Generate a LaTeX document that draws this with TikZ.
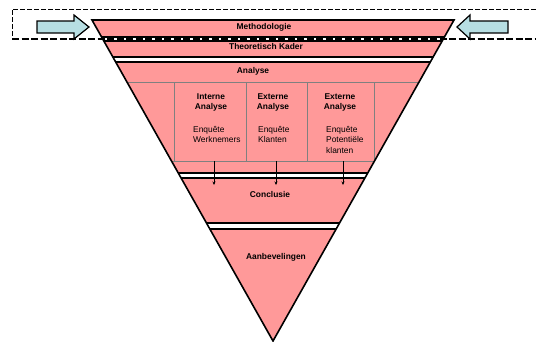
\documentclass[tikz,border=0pt]{standalone}
\usepackage{fontspec}
\setmainfont{Liberation Sans}
\usetikzlibrary{arrows.meta}
\definecolor{pinkfill}{RGB}{255,153,153}
\definecolor{bluefill}{RGB}{183,222,226}
\definecolor{gridgray}{RGB}{128,128,128}
\begin{document}
\begin{tikzpicture}[x=1pt,y=-1pt,
  band/.style={font=\fontsize{8.4}{9}\selectfont\bfseries, inner sep=0pt},
  celltitle/.style={font=\fontsize{8.4}{10}\selectfont\bfseries, align=center, inner sep=0pt},
  celltext/.style={font=\fontsize{8.4}{10.5}\selectfont, align=left, inner sep=0pt, anchor=north west},
  sepline/.style={line width=1.2pt},
  gridline/.style={draw=gridgray, line width=0.6pt},
  flow/.style={-{Stealth[length=3.5pt,width=3pt]}, line width=0.5pt},
  bigarrow/.style={fill=bluefill, draw=black, line width=1.2pt, line join=miter},
  funnel/.style={draw=black, line width=1.6pt, line join=miter},
]
\useasboundingbox (0,0) rectangle (536,341);
\coordinate (TL) at (92,20);
\coordinate (TR) at (454,20);
\coordinate (AP) at (273,341);
\fill[pinkfill] (TL) -- (TR) -- (AP) -- cycle;
\begin{scope}
  \clip (TL) -- (TR) -- (AP) -- cycle;
  \draw[gridline] (0,82) -- (536,82) (0,161) -- (536,161);
  \foreach \x in {174,246,307,374} \draw[gridline] (\x,82) -- (\x,161);
  \foreach \a/\b in {37/41,57/62,173/178,223/229} {
    \fill[white] (0,\a) rectangle (536,\b);
    \draw[sepline] (0,\a) -- (536,\a) (0,\b) -- (536,\b);
  }
\end{scope}
% flow arrows
\foreach \n/\x in {1/214,2/276,3/343} {
  \coordinate (fs\n) at (\x,161);
  \coordinate (fe\n) at (\x,185);
  \draw[flow] (fs\n) -- (fe\n);
}
\draw[funnel] (TL) -- (TR) -- (AP) -- cycle;
% dashed box
\draw[line width=0.6pt, dash pattern=on 5pt off 2pt] (536,9) -- (12,9) -- (12,39);
\draw[line width=2pt, dash pattern=on 7pt off 2.5pt] (12,39) -- (536,39);
% big arrows
\draw[bigarrow] (37,21) -- (74,21) -- (74,15) -- (89,27) -- (74,39) -- (74,33) -- (37,33) -- cycle;
\draw[bigarrow] (508,21) -- (470,21) -- (470,15) -- (457,27) -- (470,39) -- (470,33) -- (508,33) -- cycle;
% texts
\node[band] (meth) at (264,27) {Methodologie};
\node[band] (theo) at (266,46) {Theoretisch Kader};
\node[band] (ana) at (253,71) {Analyse};
\node[band] (concl) at (270,194) {Conclusie};
\node[band] (aanb) at (276,257) {Aanbevelingen};
\node[celltitle] (t1) at (211,102) {Interne\\Analyse};
\node[celltitle] (t2) at (273,102) {Externe\\Analyse};
\node[celltitle] (t3) at (340,102) {Externe\\Analyse};
\node[celltext] (c1) at (193,126) {Enquête\\Werknemers};
\node[celltext] (c2) at (258,126) {Enquête\\Klanten};
\node[celltext] (c3) at (326,126) {Enquête\\Potentiële\\klanten};
\end{tikzpicture}
\end{document}
